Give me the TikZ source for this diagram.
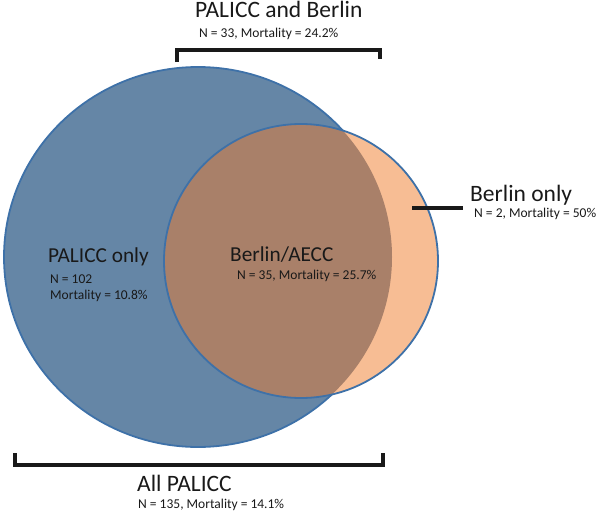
\documentclass[tikz,border=0pt]{standalone}
\usepackage{fontspec}
\setmainfont{Carlito}
\definecolor{bigfill}{RGB}{101,134,166}
\definecolor{ringblue}{RGB}{62,113,168}
\definecolor{peach}{RGB}{247,189,148}
\definecolor{overlapc}{RGB}{169,128,105}
\definecolor{txt}{RGB}{25,25,25}
\begin{document}
\begin{tikzpicture}[x=1pt,y=-1pt,
  bigtxt/.style={anchor=base west,inner sep=0pt,text=txt,font=\fontsize{23.5}{26}\selectfont},
  midtxt/.style={anchor=base west,inner sep=0pt,text=txt,font=\fontsize{21.3}{24}\selectfont},
  smalltxt/.style={anchor=base west,inner sep=0pt,text=txt,font=\fontsize{13.5}{15}\selectfont},
  brack/.style={line width=3.2pt,black!90}]
\useasboundingbox (0,0) rectangle (597,514);
% circles
\fill[bigfill] (198,257) ellipse [x radius=194, y radius=190];
\draw[ringblue,line width=1.8pt] (198,257) ellipse [x radius=194, y radius=190];
\fill[peach] (301,261) circle [radius=137];
\begin{scope}
  \clip (198,257) ellipse [x radius=194, y radius=190];
  \fill[overlapc] (301,261) circle [radius=137];
\end{scope}
\draw[ringblue,line width=1.8pt] (301,261) circle [radius=137];
% texts
\node[bigtxt] (t1) at (195,17) {PALICC and Berlin};
\node[smalltxt] (t1n) at (199,37) {N = 33, Mortality = 24.2\%};
\node[midtxt] (t2) at (48,262) {PALICC only};
\node[smalltxt] (t2n) at (50,283) {N = 102};
\node[smalltxt] (t2m) at (50,299) {Mortality = 10.8\%};
\node[midtxt] (t3) at (230,261) {Berlin/AECC};
\node[smalltxt] (t3n) at (237,279) {N = 35, Mortality = 25.7\%};
\node[bigtxt] (t4) at (470,201) {Berlin only};
\node[smalltxt] (t4n) at (474,217) {N = 2, Mortality = 50\%};
\node[bigtxt] (t5) at (137,491) {All PALICC};
\node[smalltxt] (t5n) at (138,508) {N = 135, Mortality = 14.1\%};
% brackets and pointer
\coordinate (ta) at (177,62); \coordinate (tb) at (177,50);
\coordinate (tc) at (380,50); \coordinate (td) at (380,59);
\draw[brack,line cap=butt] (ta) -- (tb) -- (tc) -- (td);
\coordinate (ba) at (15,453); \coordinate (bb) at (15,465);
\coordinate (bc) at (383,465); \coordinate (bd) at (383,453);
\draw[brack,line cap=butt] (ba) -- (bb) -- (bc) -- (bd);
\coordinate (pa) at (412,208); \coordinate (pb) at (463,208);
\draw[brack] (pa) -- (pb);
\end{tikzpicture}
\end{document}
